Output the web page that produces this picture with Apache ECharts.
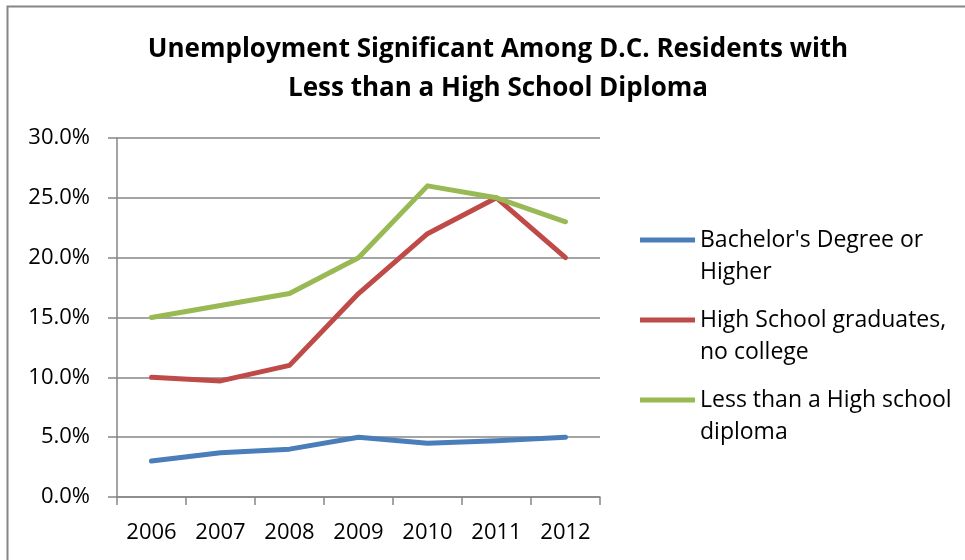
<!DOCTYPE html>
<html><head><meta charset="utf-8">
<script src="https://cdn.jsdelivr.net/npm/echarts@6/dist/echarts.min.js"></script>
<style>html,body{margin:0;padding:0;background:#fff}#c{width:965px;height:560px}</style>
</head><body><div id="c"></div>
<script>
const categories = ['2006','2007','2008','2009','2010','2011','2012'];
const bachelor = [3.0, 3.7, 4.0, 5.0, 4.5, 4.7, 5.0];
const hsGrad = [10.0, 9.7, 11.0, 17.0, 22.0, 25.0, 20.0];
const lessHS = [15.0, 16.0, 17.0, 20.0, 26.0, 25.0, 23.0];
const seriesNames = ["Bachelor's Degree or\nHigher", "High School graduates,\nno college", "Less than a High school\ndiploma"];
const colors = ['#4A7EBB', '#BE4B48', '#98B954'];
const titleText = 'Unemployment Significant Among D.C. Residents with\nLess than a High School Diploma';

const FONT = 'Open Sans';
const chart = echarts.init(document.getElementById('c'));
const legendTops = [224, 304, 384];
const legendIcon = 'path://M0,0 L0.001,0 Z M0,13.5 L55,13.5 L55,18.5 L0,18.5 Z M0,64 L0.001,64 Z';
const mkSeries = (name, data, color) => ({
  name, type: 'line', data, symbol: 'none', smooth: false,
  lineStyle: { color, width: 5, cap: 'round', join: 'round' },
  itemStyle: { color }
});
chart.setOption({
  animation: false,
  backgroundColor: '#fff',
  title: {
    text: titleText, left: 493, textAlign: 'center', top: 25,
    textStyle: { fontFamily: FONT, fontWeight: 'bold', fontSize: 26, color: '#000', lineHeight: 39 }
  },
  grid: { left: 117, right: 365, top: 138, bottom: 63, containLabel: false },
  xAxis: {
    type: 'category', data: categories, boundaryGap: true,
    axisLine: { lineStyle: { color: '#868686', width: 1.5 } },
    axisTick: { show: true, length: 8, lineStyle: { color: '#868686', width: 1.5 } },
    axisLabel: { fontFamily: FONT, fontSize: 22, color: '#000', margin: 25 }
  },
  yAxis: {
    type: 'value', min: 0, max: 30, interval: 5,
    axisLine: { show: true, lineStyle: { color: '#868686', width: 1.5 } },
    axisTick: { show: true, length: 9, lineStyle: { color: '#868686', width: 1.5 } },
    splitLine: { lineStyle: { color: '#868686', width: 1.5 } },
    axisLabel: { fontFamily: FONT, fontSize: 22, color: '#000', margin: 27, formatter: v => v.toFixed(1) + '%' }
  },
  legend: seriesNames.map((n, i) => ({
    data: [n], orient: 'vertical', left: 640, top: legendTops[i], padding: 0,
    icon: legendIcon, itemWidth: 55, itemHeight: 64, itemGap: 0,
    itemStyle: { color: colors[i] },
    textStyle: { fontFamily: FONT, fontSize: 23, color: '#000', lineHeight: 32 },
    selectedMode: false
  })),
  graphic: [{
    type: 'rect', shape: { x: 7.5, y: 6.5, width: 1000, height: 600 },
    style: { fill: 'none', stroke: '#868686', lineWidth: 2 }, silent: true, z: -1
  }],
  series: [
    mkSeries(seriesNames[0], bachelor, colors[0]),
    mkSeries(seriesNames[1], hsGrad, colors[1]),
    mkSeries(seriesNames[2], lessHS, colors[2])
  ]
});
</script></body></html>
